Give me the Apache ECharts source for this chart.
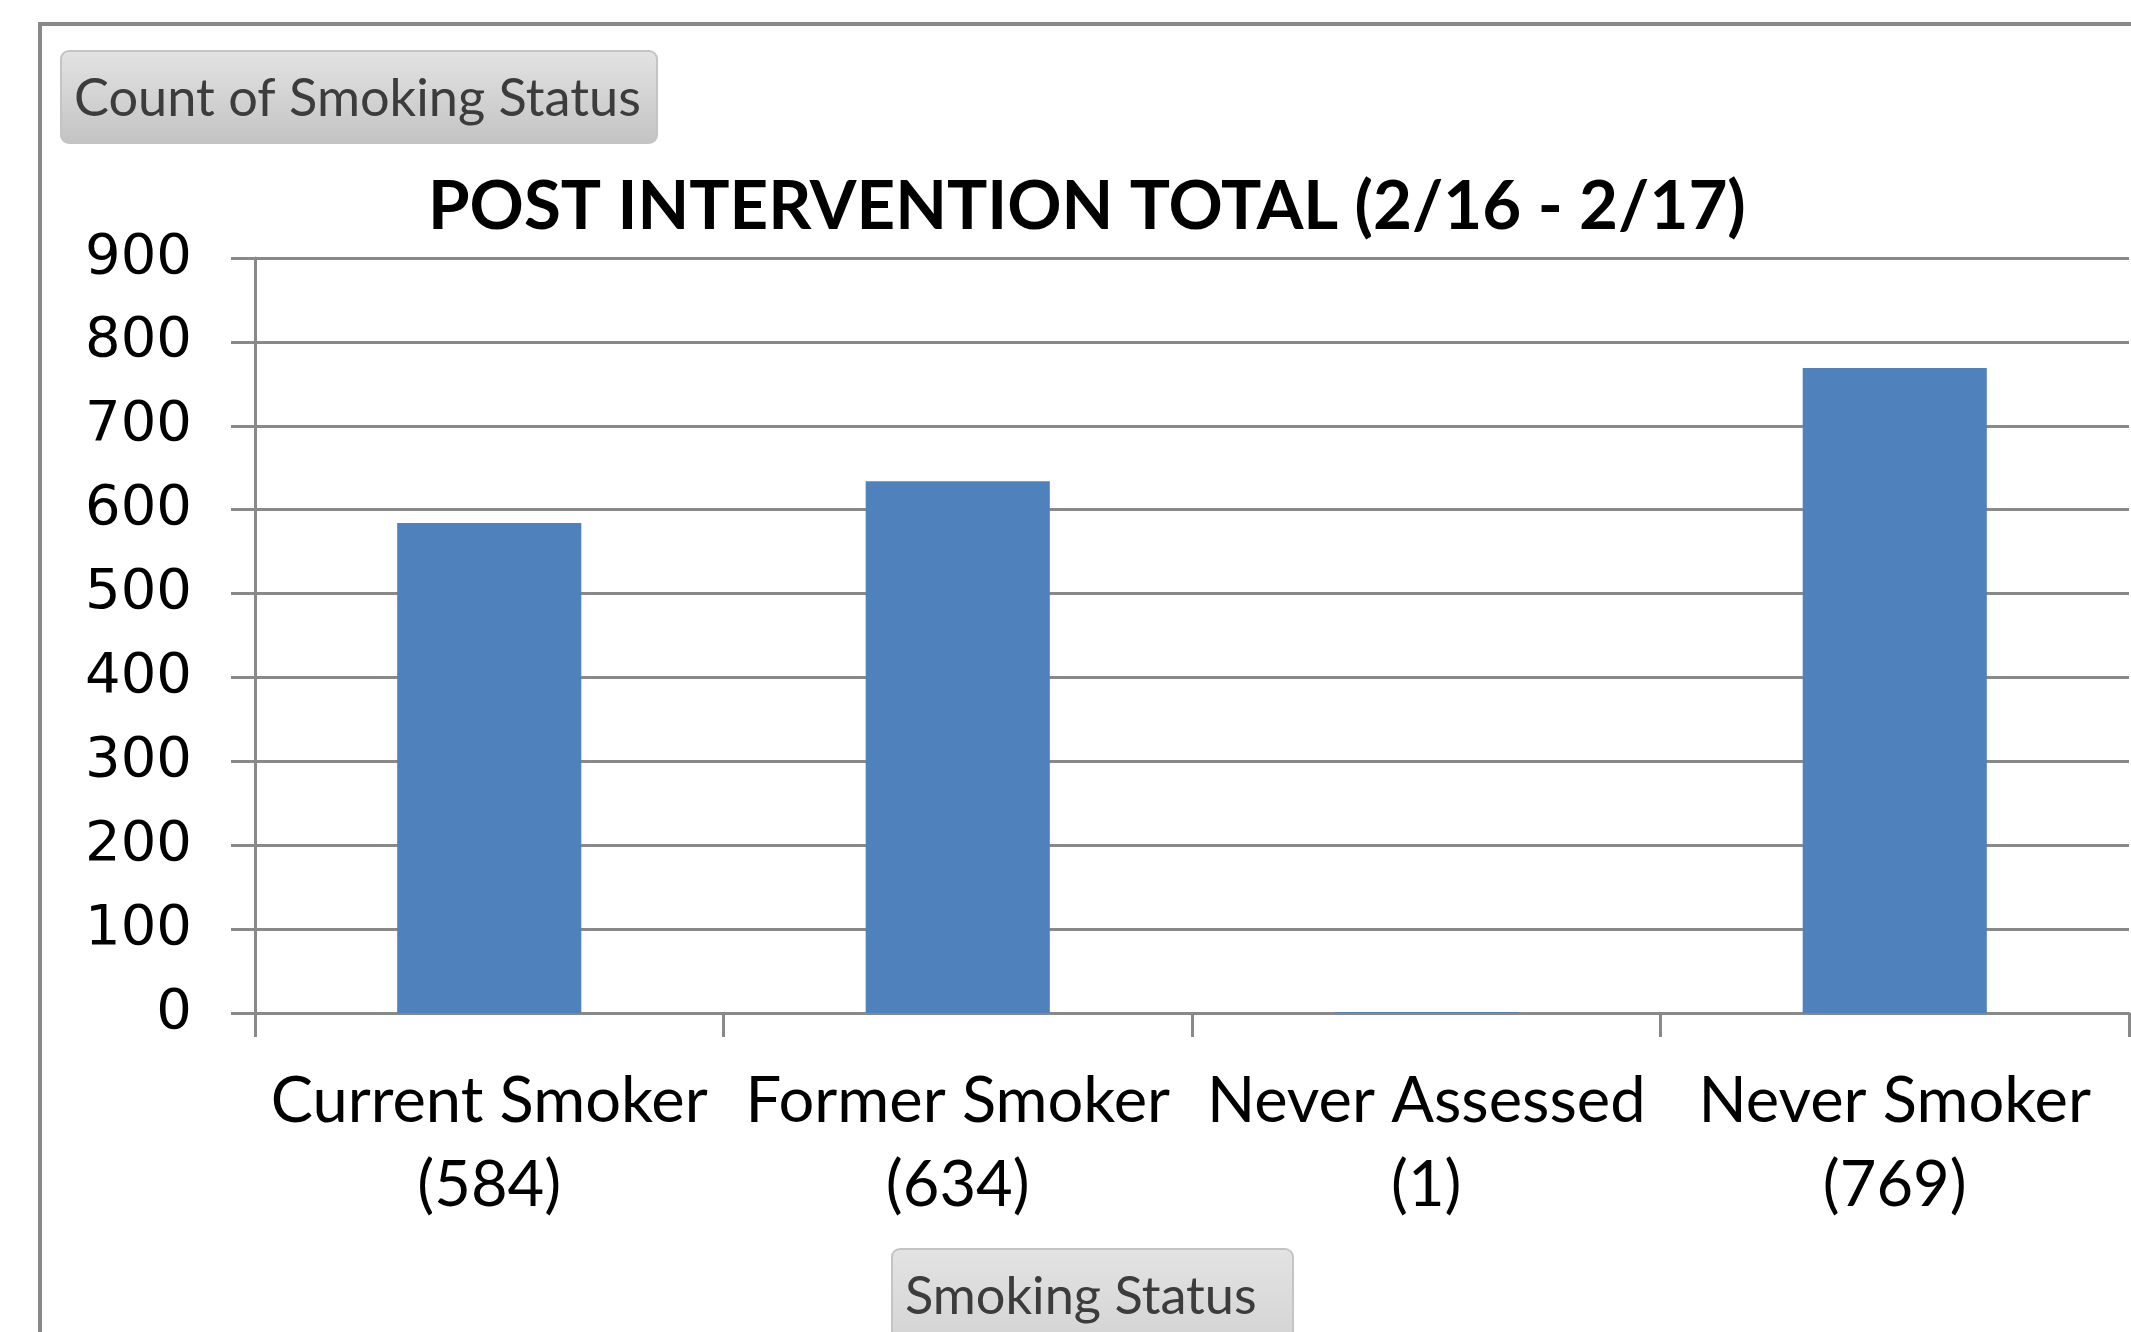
<!DOCTYPE html>
<html>
<head>
<meta charset="utf-8">
<script src="https://cdn.jsdelivr.net/npm/echarts@6/dist/echarts.min.js"></script>
<style>
  html, body { margin: 0; padding: 0; background: #ffffff; }
  #chart { width: 2131px; height: 1332px; }
</style>
</head>
<body>
<div id="chart"></div>
<script>
// Smoking status counts after the intervention
const categories = ['Current Smoker', 'Former Smoker', 'Never Assessed', 'Never Smoker'];
const counts = [584, 634, 1, 769];
const yMin = 0;
const yMax = 900;
const yStep = 100;
const titleText = 'POST INTERVENTION TOTAL (2/16 - 2/17)';
const valueFieldLabel = 'Count of Smoking Status';
const categoryFieldLabel = 'Smoking Status';

// Pick a font size that makes a string span the given pixel width.
function fitSize(text, family, weight, width) {
  const ctx = document.createElement('canvas').getContext('2d');
  ctx.font = weight + ' 100px ' + family;
  return 100 * width / ctx.measureText(text).width;
}

const gray = '#898989';
const catSize = fitSize(categories[0], 'Lato', 400, 437);
const titleSize = fitSize(titleText, 'Lato', 700, 1318);
const btnSize = fitSize(valueFieldLabel, 'Lato', 400, 567);

function buttonFill() {
  return new echarts.graphic.LinearGradient(0, 0, 0, 1, [
    { offset: 0, color: '#e3e3e3' },
    { offset: 1, color: '#c3c3c3' }
  ]);
}

// Pivot-style field button: rounded grey box with a caption
function fieldButton(x, y, w, h, textX, textY, caption) {
  return {
    type: 'group',
    silent: true,
    children: [
      {
        type: 'rect',
        shape: { x: x, y: y, width: w, height: h, r: 8 },
        style: { fill: buttonFill(), stroke: '#c4c4c4', lineWidth: 2 }
      },
      {
        type: 'text',
        x: textX,
        y: textY,
        style: {
          text: caption,
          fontFamily: 'Lato',
          fontSize: btnSize,
          fill: '#3c3c3c',
          align: 'left',
          verticalAlign: 'middle'
        }
      }
    ]
  };
}

const chart = echarts.init(document.getElementById('chart'), null, { renderer: 'canvas' });

const option = {
  animation: false,
  backgroundColor: '#ffffff',
  title: {
    text: titleText,
    left: 428,
    top: 207 - titleSize / 2,
    padding: 0,
    textStyle: {
      fontFamily: 'Lato',
      fontWeight: 700,
      fontSize: titleSize,
      lineHeight: titleSize,
      color: '#000000'
    }
  },
  grid: {
    left: 255,
    right: 2,
    top: 258,
    bottom: 319,
    containLabel: false,
    outerBoundsMode: 'none'
  },
  xAxis: {
    type: 'category',
    data: categories,
    boundaryGap: true,
    axisLine: { show: true, lineStyle: { color: gray, width: 3 } },
    axisTick: { show: true, length: 24, lineStyle: { color: gray, width: 3 } },
    axisLabel: {
      interval: 0,
      margin: 47,
      fontFamily: 'Lato',
      fontSize: catSize,
      lineHeight: 84,
      color: '#000000',
      formatter: function (value, idx) {
        return value + '\n(' + counts[idx] + ')';
      }
    }
  },
  yAxis: {
    type: 'value',
    min: yMin,
    max: yMax,
    interval: yStep,
    axisLine: { show: true, lineStyle: { color: gray, width: 3 } },
    axisTick: { show: true, length: 24, lineStyle: { color: gray, width: 3 } },
    axisLabel: {
      margin: 63,
      padding: [7, 0, 0, 0],
      fontFamily: 'DejaVu Sans',
      fontSize: 56,
      color: '#000000'
    },
    splitLine: { show: true, lineStyle: { color: gray, width: 3 } }
  },
  series: [
    {
      type: 'bar',
      data: counts,
      barWidth: '39.3%',
      itemStyle: { color: '#4f81bd' }
    }
  ],
  graphic: [
    {
      type: 'rect',
      silent: true,
      z: -10,
      shape: { x: 40, y: 24, width: 3000, height: 3000 },
      style: { fill: null, stroke: gray, lineWidth: 4 }
    },
    fieldButton(61, 51, 596, 92, 74, 99, valueFieldLabel),
    fieldButton(892, 1249, 401, 200, 905, 1297, categoryFieldLabel)
  ]
};

chart.setOption(option);
</script>
</body>
</html>
